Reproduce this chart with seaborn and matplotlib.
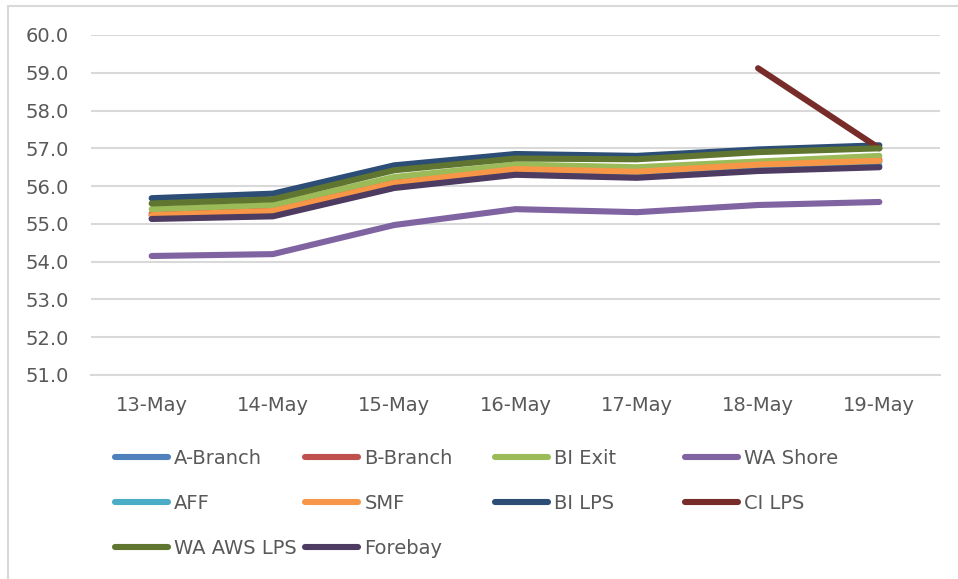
import matplotlib
matplotlib.use("Agg")
import matplotlib.pyplot as plt
from matplotlib.lines import Line2D
from matplotlib.patches import Rectangle
import seaborn as sns
import pandas as pd
import numpy as np

dates = ["13-May", "14-May", "15-May", "16-May", "17-May", "18-May", "19-May"]

a_branch   = [55.22, 55.32, 56.05, 56.43, 56.36, 56.55, 56.65]
b_branch   = [55.27, 55.37, 56.10, 56.48, 56.41, 56.60, 56.70]
bi_exit    = [55.39, 55.50, 56.24, 56.57, 56.50, 56.65, 56.80]
wa_shore   = [54.15, 54.20, 54.97, 55.39, 55.31, 55.50, 55.58]
aff        = [55.15, 55.22, 55.97, 56.32, 56.24, 56.42, 56.55]
smf        = [55.23, 55.34, 56.08, 56.45, 56.38, 56.57, 56.67]
bi_lps     = [55.68, 55.80, 56.55, 56.85, 56.80, 56.97, 57.08]
ci_lps     = [np.nan, np.nan, np.nan, np.nan, np.nan, 59.12, 57.00]
wa_aws_lps = [55.54, 55.65, 56.42, 56.73, 56.71, 56.90, 57.00]
forebay    = [55.13, 55.20, 55.95, 56.30, 56.22, 56.40, 56.50]

series_names = ["A-Branch", "B-Branch", "BI Exit", "WA Shore", "AFF", "SMF",
                "BI LPS", "CI LPS", "WA AWS LPS", "Forebay"]
series_values = [a_branch, b_branch, bi_exit, wa_shore, aff, smf,
                 bi_lps, ci_lps, wa_aws_lps, forebay]
colors = ["#4F81BD", "#C0504D", "#9BBB59", "#8064A2", "#4BACC6", "#F79646",
          "#2C4D75", "#772C2A", "#5F7530", "#4D3B62"]

rows = []
for name, vals in zip(series_names, series_values):
    for d, v in zip(dates, vals):
        rows.append({"date": d, "series": name, "value": v})
df = pd.DataFrame(rows).dropna()

sns.set_theme(style="white")
plt.rcParams["font.family"] = ["DejaVu Sans"]
text_color = "#595959"
grid_color = "#D9D9D9"

fig = plt.figure(figsize=(9.58, 5.79), dpi=100)
ax = fig.add_axes([91/958, 1 - 375/579, (940 - 91)/958, (375 - 35)/579])

palette = dict(zip(series_names, colors))
sns.lineplot(data=df, x="date", y="value", hue="series", hue_order=series_names,
             palette=palette, sort=False, legend=False, linewidth=4.4,
             solid_capstyle="round", solid_joinstyle="round", ax=ax)

ax.set_xlim(-0.5, len(dates) - 0.5)
ax.set_ylim(51, 60)
ax.set_yticks(np.arange(51, 60.5, 1.0))
ax.set_yticklabels([f"{v:.1f}" for v in np.arange(51, 60.5, 1.0)])
ax.set_xticks(range(len(dates)))
ax.set_xticklabels(dates)
ax.set_xticks(np.arange(-0.5, len(dates), 1.0), minor=True)
ax.set_xlabel("")
ax.set_ylabel("")

ax.yaxis.grid(True, color=grid_color, linewidth=1.5)
ax.set_axisbelow(True)
for s in ["top", "right", "left"]:
    ax.spines[s].set_visible(False)
ax.spines["bottom"].set_color(grid_color)
ax.spines["bottom"].set_linewidth(1.5)

ax.tick_params(axis="y", length=0, pad=16, labelsize=14, labelcolor=text_color)
ax.tick_params(axis="x", which="major", length=0, pad=15, labelsize=14,
               labelcolor=text_color)
ax.tick_params(axis="x", which="minor", length=6, width=1.5, color=grid_color,
               direction="out")

# chart border (extends past the right and bottom edges, as in the reference)
fig.patches.append(Rectangle((8/958, -0.05), 1.2, 1.05 - 6/579,
                             transform=fig.transFigure, fill=False,
                             edgecolor=grid_color, linewidth=1.5))

# legend: 4 columns placed like the reference
col_x = [115, 305, 495, 685]
for j in range(4):
    idx = list(range(j, len(series_names), 4))
    handles = [Line2D([], [], color=colors[i], linewidth=4.4, solid_capstyle="round")
               for i in idx]
    labels = [series_names[i] for i in idx]
    fig.legend(handles, labels, loc="upper left",
               bbox_to_anchor=(col_x[j]/958, 1 - 449/579),
               frameon=False, fontsize=14, handlelength=2.7,
               handletextpad=0.35, labelspacing=1.33, borderpad=0,
               borderaxespad=0, labelcolor=text_color)

fig.savefig("out.png", dpi=100, facecolor="white")
